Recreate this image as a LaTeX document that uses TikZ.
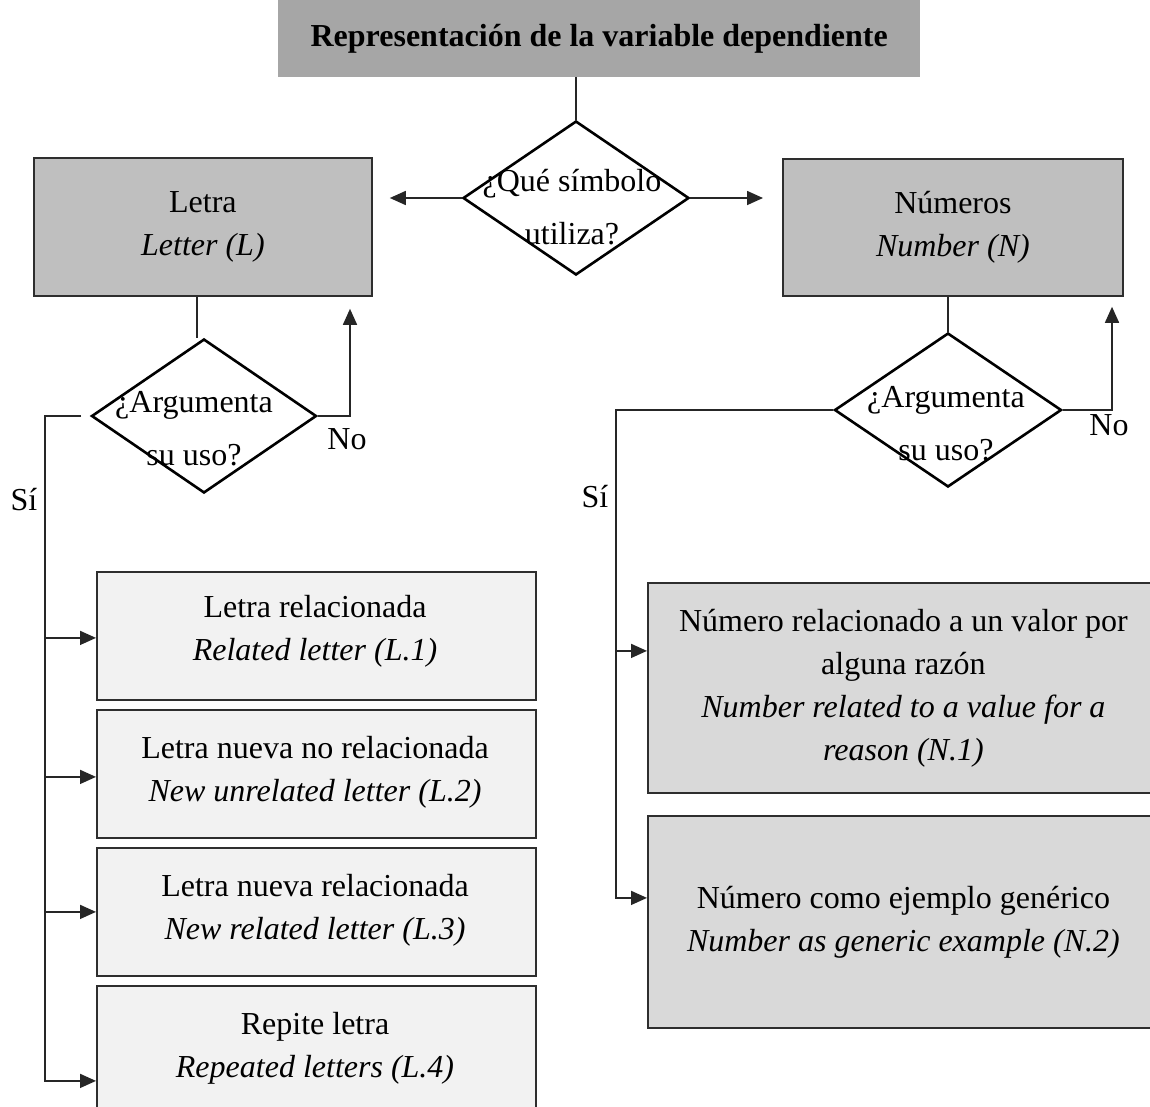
\documentclass[tikz,border=0pt]{standalone}
\usepackage{fontspec}
\setmainfont{Liberation Serif}
\usetikzlibrary{shapes.geometric,arrows.meta}

\definecolor{titlegray}{HTML}{A6A6A6}
\definecolor{catgray}{HTML}{BFBFBF}
\definecolor{lightfill}{HTML}{F2F2F2}
\definecolor{midfill}{HTML}{D9D9D9}
\definecolor{edge}{HTML}{2E2E2E}
\definecolor{wire}{HTML}{262626}

\begin{document}
\begin{tikzpicture}[x=1pt,y=-1pt,
  every node/.style={font=\fontsize{32}{43}\selectfont, inner sep=0pt},
  txt/.style={align=center},
  dtxt/.style={align=center, font=\fontsize{32}{53}\selectfont},
  box/.style={rectangle, draw=edge, line width=1.8pt, anchor=north west, align=center},
  dia/.style={diamond, draw=black, line width=2.6pt, inner sep=0pt},
  wireline/.style={draw=wire, line width=1.6pt},
  arr/.style={wireline, -{Triangle[length=16pt,width=14pt]}},
]
\clip (0,0) rectangle (1150,1106);
\fill[white] (0,0) rectangle (1150,1106);

% title
\node[rectangle, fill=titlegray, anchor=north west, minimum width=642pt, minimum height=77pt,
      font=\fontsize{32}{43}\selectfont\bfseries] (title) at (278,0) {Representación de la variable dependiente};

% first decision
\node[dia, minimum width=226pt, minimum height=154pt] (d0) at (576,198) {};
\node[dtxt] (d0t) at (572,207) {¿Qué símbolo\\utiliza?};

% categories
\node[box, fill=catgray, minimum width=338pt, minimum height=138pt] (lcat) at (33,157) {Letra\\\textit{Letter (L)}};
\node[box, fill=catgray, minimum width=340pt, minimum height=137pt] (ncat) at (782,158) {Números\\\textit{Number (N)}};

% second-level decisions
\node[dia, minimum width=225pt, minimum height=154pt] (ld) at (204,416) {};
\node[dtxt] (ldt) at (194,429) {¿Argumenta\\su uso?};
\node[dia, minimum width=227pt, minimum height=154pt] (rd) at (948,410) {};
\node[dtxt] (rdt) at (946,424) {¿Argumenta\\su uso?};

% letter subtypes
\node[box, fill=lightfill, minimum width=439pt, minimum height=128pt] (l1) at (96,571) {};
\node[box, fill=lightfill, minimum width=439pt, minimum height=128pt] (l2) at (96,709) {};
\node[box, fill=lightfill, minimum width=439pt, minimum height=128pt] (l3) at (96,847) {};
\node[box, fill=lightfill, minimum width=439pt, minimum height=128pt] (l4) at (96,985) {};
\node[txt] (l1t) at (315,631) {Letra relacionada\\\textit{Related letter (L.1)}};
\node[txt] (l2t) at (315,772) {Letra nueva no relacionada\\\textit{New unrelated letter (L.2)}};
\node[txt] (l3t) at (315,910) {Letra nueva relacionada\\\textit{New related letter (L.3)}};
\node[txt] (l4t) at (315,1048) {Repite letra\\\textit{Repeated letters (L.4)}};

% number subtypes
\node[box, fill=midfill, minimum width=511pt, minimum height=210pt] (n1) at (647,582)
  {Número relacionado a un valor por\\alguna razón\\\textit{Number related to a value for a}\\\textit{reason (N.1)}};
\node[box, fill=midfill, minimum width=511pt, minimum height=212pt] (n2) at (647,815)
  {Número como ejemplo genérico\\\textit{Number as generic example (N.2)}};

% branch labels
\node (lno) at (347,439) {No};
\node (rno) at (1109,425) {No};
\node (lsil) at (24,500) {Sí};
\node (rsil) at (595,497) {Sí};

% connectors from the top
\draw[wireline] (d0.north |- title.south) -- (d0.north);
\draw[arr, shorten >=17pt] (d0.west) -- (d0.west -| lcat.east);
\draw[arr, shorten >=19pt] (d0.east) -- (d0.east -| ncat.west);

% letter branch
\draw[wireline] ([xshift=-7pt]ld.north) -- ([xshift=-7pt]ld.north |- lcat.south);
\coordinate (lnoc) at (350,416);
\draw[arr, shorten >=12pt] (ld.east) -- (lnoc) -- (lnoc |- lcat.south);
\coordinate (lsi) at (45,416);
\coordinate (a4) at ([yshift=-31pt]l4.west);
\draw[arr] ([xshift=-9pt]ld.west) -- (lsi) -- (lsi |- a4) -- (a4);
\coordinate (a1) at ([yshift=-2pt]l1.west);
\coordinate (a2) at ([yshift=-3pt]l2.west);
\draw[arr] (lsi |- a1) -- (a1);
\draw[arr] (lsi |- a2) -- (a2);
\draw[arr] (lsi |- l3.west) -- (l3.west);

% number branch
\draw[wireline] (rd.north) -- (rd.north |- ncat.south);
\coordinate (rnoc) at (1112,410);
\draw[arr, shorten >=10pt] (rd.east) -- (rnoc) -- (rnoc |- ncat.south);
\coordinate (rsi) at (616,410);
\coordinate (b1) at ([yshift=37pt]n1.west);
\coordinate (b2) at ([yshift=24pt]n2.west);
\draw[arr] (rd.west) -- (rsi) -- (rsi |- b2) -- (b2);
\draw[arr] (rsi |- b1) -- (b1);
\end{tikzpicture}
\end{document}
